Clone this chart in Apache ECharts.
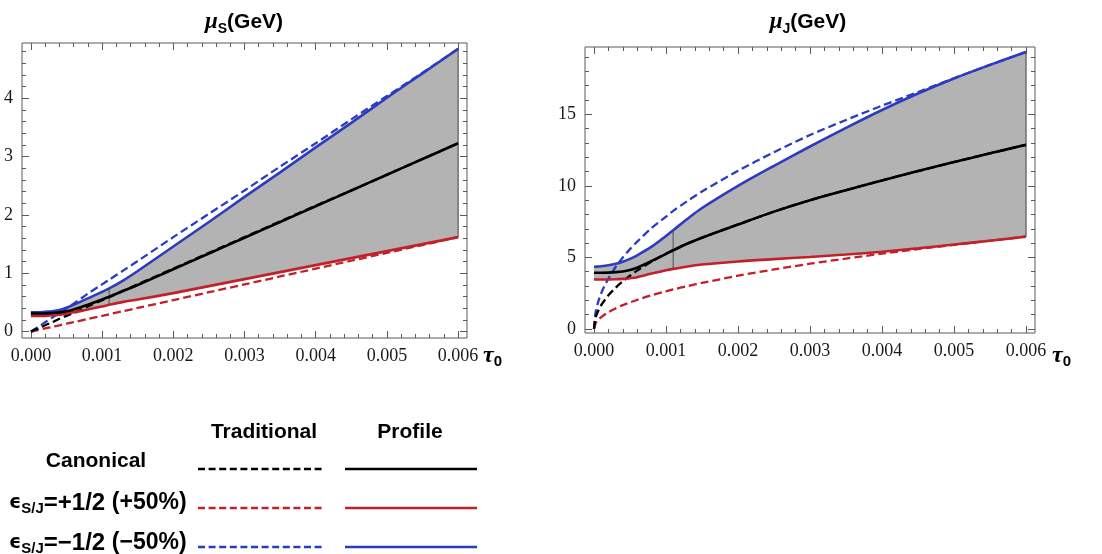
<!DOCTYPE html>
<html>
<head>
<meta charset="utf-8">
<script src="https://cdn.jsdelivr.net/npm/echarts@6/dist/echarts.min.js"></script>
<style>
html, body { margin: 0; padding: 0; background: #fff; }
#main { width: 1102px; height: 554px; }
</style>
</head>
<body>
<div id="main"></div>
<script>
// tau0 sample points, shared by both panels
var tau = [0, 0.00002, 0.00005, 0.0001, 0.0002, 0.0003, 0.0004, 0.0005, 0.0006, 0.0008, 0.001, 0.0011,
           0.0013, 0.0015, 0.002, 0.0025, 0.003, 0.0035, 0.004, 0.0045, 0.005, 0.0055, 0.006];

// mu_S (GeV)
var muSProfile     = [0.31, 0.31, 0.31, 0.31, 0.31, 0.32, 0.33, 0.35, 0.38, 0.46, 0.55, 0.60, 0.70, 0.80, 1.07, 1.34, 1.61, 1.88, 2.15, 2.42, 2.69, 2.96, 3.23];
var muSTrad        = [0, 0.01, 0.03, 0.05, 0.11, 0.16, 0.22, 0.27, 0.32, 0.43, 0.54, 0.59, 0.70, 0.81, 1.08, 1.35, 1.62, 1.89, 2.16, 2.42, 2.69, 2.96, 3.23];
var muSProfileMinus = [0.33, 0.33, 0.33, 0.33, 0.34, 0.35, 0.37, 0.41, 0.46, 0.57, 0.68, 0.74, 0.88, 1.04, 1.46, 1.88, 2.31, 2.73, 3.16, 3.58, 4.01, 4.43, 4.85];
var muSTradMinus   = [0, 0.02, 0.04, 0.08, 0.16, 0.24, 0.32, 0.40, 0.48, 0.65, 0.81, 0.89, 1.05, 1.21, 1.62, 2.02, 2.42, 2.83, 3.23, 3.64, 4.04, 4.44, 4.85];
var muSProfilePlus = [0.27, 0.27, 0.27, 0.27, 0.27, 0.28, 0.29, 0.31, 0.33, 0.38, 0.43, 0.46, 0.51, 0.55, 0.66, 0.78, 0.90, 1.02, 1.14, 1.26, 1.38, 1.50, 1.62];
var muSTradPlus    = [0, 0.005, 0.014, 0.027, 0.054, 0.081, 0.108, 0.135, 0.162, 0.216, 0.27, 0.297, 0.351, 0.405, 0.54, 0.675, 0.81, 0.945, 1.08, 1.215, 1.35, 1.485, 1.62];

// mu_J (GeV)
var muJProfile     = [3.93, 3.93, 3.93, 3.93, 3.94, 3.97, 4.02, 4.12, 4.28, 4.75, 5.25, 5.5, 5.97, 6.38, 7.3, 8.2, 9.0, 9.7, 10.38, 11.03, 11.66, 12.27, 12.87];
var muJTrad        = [0, 0.74, 1.17, 1.66, 2.35, 2.88, 3.33, 3.72, 4.08, 4.71, 5.25, 5.5, 5.97, 6.38, 7.3, 8.2, 9.0, 9.7, 10.38, 11.03, 11.66, 12.27, 12.87];
var muJProfileMinus = [4.35, 4.35, 4.36, 4.38, 4.45, 4.55, 4.7, 4.9, 5.15, 5.75, 6.5, 6.9, 7.7, 8.45, 10.0, 11.4, 12.75, 14.05, 15.3, 16.45, 17.5, 18.45, 19.35];
var muJTradMinus   = [0, 1.1, 1.75, 2.5, 3.53, 4.33, 5.0, 5.58, 6.1, 7.05, 7.85, 8.25, 8.95, 9.6, 11.05, 12.35, 13.55, 14.6, 15.6, 16.55, 17.52, 18.45, 19.36];
var muJProfilePlus = [3.46, 3.46, 3.46, 3.46, 3.46, 3.47, 3.5, 3.55, 3.62, 3.87, 4.1, 4.2, 4.37, 4.5, 4.72, 4.88, 5.03, 5.2, 5.4, 5.64, 5.9, 6.17, 6.45];
var muJTradPlus    = [0, 0.37, 0.59, 0.83, 1.18, 1.44, 1.67, 1.86, 2.04, 2.36, 2.63, 2.76, 3.0, 3.22, 3.72, 4.16, 4.56, 4.92, 5.26, 5.58, 5.88, 6.17, 6.45];

// edges of the profile band (tau = 0.0011 and tau = 0.006)
var seamIdx = [11, 22];

var xTicks = [0, 0.001, 0.002, 0.003, 0.004, 0.005, 0.006];
var sTicks = [0, 1, 2, 3, 4];
var jTicks = [0, 5, 10, 15];

var BLUE = '#2b3cc0', RED = '#c2202a', BLACK = '#000', FILL = '#b3b3b3', FRAME = '#5a5a5a';
var SMOOTH = 0.3;

var chart = echarts.init(document.getElementById('main'));

function pts(ys) {
    return tau.map(function (t, i) { return [t, ys[i]]; });
}
// value first so the stack is done on the value, not on tau
function ptsYX(ys) {
    return tau.map(function (t, i) { return [ys[i], t]; });
}
function diff(a, b) {
    return a.map(function (v, i) { return v - b[i]; });
}
function minors(lo, hi, step, majors) {
    var out = [];
    for (var k = 0; lo + k * step <= hi + step / 2; k++) {
        var v = +(lo + k * step).toFixed(6);
        if (majors.indexOf(v) < 0) out.push(v);
    }
    return out;
}

// four axes per direction: labelled major ticks, minor ticks, mirrored major, mirrored minor
function axisSet(g, pos1, pos2, min, max, majors, minorVals, fmt) {
    function ax(pos, vals, len, labels) {
        return {
            type: 'value', gridIndex: g, position: pos, min: min, max: max,
            splitLine: { show: false },
            axisLine: { show: false, onZero: false },
            axisTick: { show: true, inside: true, length: len, customValues: vals, lineStyle: { color: FRAME, width: 1 } },
            axisLabel: labels ? {
                show: true, customValues: vals, formatter: fmt, margin: 9,
                color: '#1a1a1a', fontFamily: 'Liberation Serif', fontSize: 18
            } : { show: false }
        };
    }
    return [ax(pos1, majors, 7, true), ax(pos1, minorVals, 4, false), ax(pos2, majors, 7, false), ax(pos2, minorVals, 4, false)];
}

function panelSeries(g, c, cT, up, upT, dn, dnT) {
    var idx = { xAxisIndex: g * 4, yAxisIndex: g * 4 };
    function curve(ys, color, dashed) {
        return Object.assign({
            type: 'line', data: pts(ys), symbol: 'none', smooth: SMOOTH, silent: true,
            lineStyle: { color: color, width: dashed ? 2.3 : 2.6, type: dashed ? [8, 4] : 'solid', cap: 'butt' }
        }, idx);
    }
    var list = [
        Object.assign({ type: 'line', stack: 'band' + g, data: ptsYX(dn), encode: { x: 1, y: 0 }, symbol: 'none',
            smooth: SMOOTH, silent: true, lineStyle: { opacity: 0 } }, idx),
        Object.assign({ type: 'line', stack: 'band' + g, data: ptsYX(diff(up, dn)), encode: { x: 1, y: 0 }, symbol: 'none',
            smooth: SMOOTH, silent: true, lineStyle: { opacity: 0 }, areaStyle: { color: FILL, opacity: 1 } }, idx)
    ];
    seamIdx.forEach(function (i) {
        list.push(Object.assign({ type: 'line', data: [[tau[i], dn[i]], [tau[i], up[i]]], symbol: 'none', silent: true,
            lineStyle: { color: '#707070', width: 1.5 } }, idx));
    });
    list.push(curve(dnT, RED, true), curve(upT, BLUE, true), curve(cT, BLACK, true));
    list.push(curve(dn, RED, false), curve(up, BLUE, false), curve(c, BLACK, false));
    return list;
}

var xMinor = minors(0, 0.006, 0.0002, xTicks);
var fmtX = function (v) { return v.toFixed(3); };
var fmtY = function (v) { return String(v); };

function rt(text, x, y, rich, align) {
    return {
        type: 'text', x: x, y: y, silent: true,
        style: { text: text, rich: rich, align: align || 'center', textAlign: align || 'center',
                 verticalAlign: 'middle', textVerticalAlign: 'middle', fill: '#000' }
    };
}
var titleRich = {
    m: { fontFamily: 'Liberation Serif', fontStyle: 'italic', fontWeight: 'bold', fontSize: 23, lineHeight: 28, fill: '#000' },
    s: { fontFamily: 'Liberation Sans', fontWeight: 'bold', fontSize: 14, lineHeight: 13, verticalAlign: 'bottom', fill: '#000' },
    g: { fontFamily: 'Liberation Sans', fontWeight: 'bold', fontSize: 21, lineHeight: 28, fill: '#000' }
};
var tauRich = {
    t: { fontFamily: 'Liberation Serif', fontStyle: 'italic', fontWeight: 'bold', fontSize: 24, lineHeight: 26, fill: '#000' },
    z: { fontFamily: 'Liberation Sans', fontWeight: 'bold', fontSize: 15, lineHeight: 12, verticalAlign: 'bottom', fill: '#000' }
};
var legRich = {
    h: { fontFamily: 'Liberation Sans', fontWeight: 'bold', fontSize: 21, lineHeight: 26, fill: '#000' },
    e: { fontFamily: 'DejaVu Sans', fontWeight: 'bold', fontSize: 19, lineHeight: 26, fill: '#000' },
    s: { fontFamily: 'Liberation Sans', fontWeight: 'bold', fontSize: 15, lineHeight: 12, verticalAlign: 'bottom', fill: '#000' },
    b: { fontFamily: 'Liberation Sans', fontWeight: 'bold', fontSize: 24, lineHeight: 26, fill: '#000' },
    p: { fontFamily: 'Liberation Sans', fontWeight: 'bold', fontSize: 23, lineHeight: 26, fill: '#000' }
};
function legLine(x1, x2, y, color, dashed) {
    return { type: 'line', silent: true, shape: { x1: x1, y1: y, x2: x2, y2: y },
             style: { stroke: color, lineWidth: 2.6, lineDash: dashed ? [7, 3.6] : null } };
}

var option = {
    animation: false,
    backgroundColor: '#fff',
    grid: [
        { left: 22, top: 43, width: 445, height: 295, show: true, borderColor: FRAME, borderWidth: 1,
          backgroundColor: 'transparent', containLabel: false, outerBoundsMode: 'none' },
        { left: 585, top: 47, width: 450, height: 286, show: true, borderColor: FRAME, borderWidth: 1,
          backgroundColor: 'transparent', containLabel: false, outerBoundsMode: 'none' }
    ],
    xAxis: [].concat(
        axisSet(0, 'bottom', 'top', -0.000125, 0.006125, xTicks, xMinor, fmtX),
        axisSet(1, 'bottom', 'top', -0.000125, 0.006125, xTicks, xMinor, fmtX)
    ),
    yAxis: [].concat(
        axisSet(0, 'left', 'right', -0.11, 4.95, sTicks, minors(0, 4.8, 0.2, sTicks), fmtY),
        axisSet(1, 'left', 'right', -0.28, 19.7, jTicks, minors(0, 19, 1, jTicks), fmtY)
    ),
    series: [].concat(
        panelSeries(0, muSProfile, muSTrad, muSProfileMinus, muSTradMinus, muSProfilePlus, muSTradPlus),
        panelSeries(1, muJProfile, muJTrad, muJProfileMinus, muJTradMinus, muJProfilePlus, muJTradPlus)
    ),
    graphic: [
        rt('{m|μ}{s|S}{g|(GeV)}', 244, 22, titleRich),
        rt('{m|μ}{s|J}{g|(GeV)}', 808, 22, titleRich),
        rt('{t|τ}{z|0}', 483, 356, tauRich, 'left'),
        rt('{t|τ}{z|0}', 1052, 356, tauRich, 'left'),
        rt('{h|Traditional}', 264, 432, legRich),
        rt('{h|Profile}', 410, 432, legRich),
        rt('{h|Canonical}', 96, 461, legRich),
        rt('{e|ϵ}{s|S/J}{b|=+1/2 }{p|(+50%)}', 9, 503, legRich, 'left'),
        rt('{e|ϵ}{s|S/J}{b|=−1/2 }{p|(−50%)}', 9, 543, legRich, 'left'),
        legLine(198, 325, 469, BLACK, true),
        legLine(345, 477, 469, BLACK, false),
        legLine(198, 325, 508, RED, true),
        legLine(345, 477, 508, RED, false),
        legLine(198, 325, 547, BLUE, true),
        legLine(345, 477, 547, BLUE, false)
    ]
};

option && chart.setOption(option);
</script>
</body>
</html>
